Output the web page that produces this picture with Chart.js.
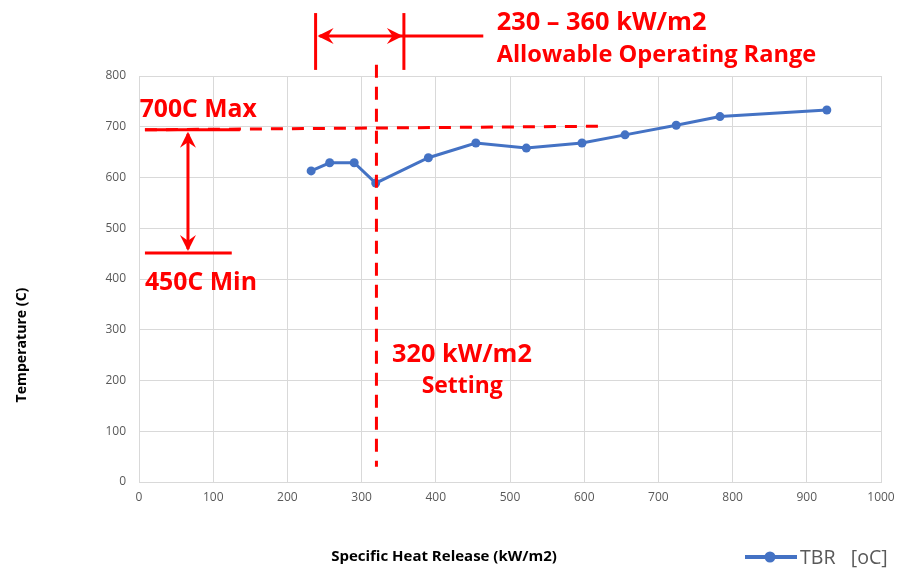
<!DOCTYPE html>
<html>
<head>
<meta charset="utf-8">
<script src="https://cdn.jsdelivr.net/npm/chart.js@4.4.0/dist/chart.umd.min.js"></script>
<style>
  html, body { margin: 0; padding: 0; background: #fff; }
  #wrap { width: 899px; height: 574px; position: relative; }
</style>
</head>
<body>
<div id="wrap"><canvas id="tbr-chart"></canvas></div>
<script>
// Données (kW/m2 -> °C)
const heatRelease = [232, 257, 290, 319, 390, 454, 522, 597, 655, 724, 783, 927]
const tbrTemp = [613, 629, 629, 589, 639, 668, 658, 668, 684, 703, 720, 733]
const seriesLabel = "TBR   [oC]"

// axes
const xMin = 0, xMax = 1000, xStep = 100
const yMin = 0, yMax = 800, yStep = 100
const xTitle = "Specific Heat Release (kW/m2)"
const yTitle = "Temperature (C)"

// repères rouges (en unités du graphe)
const rangeX = [238, 357]          // plage autorisée
const rangeY = [812, 924]
const rangeArrowY = 879
const rangeArrowEnd = 464
const settingX = 320
const settingY = [30, 822]
const maxDashX = [8, 621]
const maxDashY = [694, 701]
const maxLineX = [8, 136]
const minLineX = [8, 125]
const maxTemp = 694
const minTemp = 451
const tempArrowX = 66

const rangeText = ["230 – 360 kW/m2", "Allowable Operating Range"]
const maxText = "700C Max"
const minText = "450C Min"
const settingText = ["320 kW/m2", "Setting"]

const red = "#FF0000"
const blue = "#4472C4"
const fontFamily = '"Open Sans", "DejaVu Sans", sans-serif'

// taille de police pour une largeur donnée
function fitFont(ctx, text, width, weight) {
    ctx.font = `${weight} 100px ${fontFamily}`
    let size = 100 * width / ctx.measureText(text).width
    return `${weight} ${size.toFixed(1)}px ${fontFamily}`
}

function arrowHead(ctx, x, y, angle) {
    const L = 16, W = 8
    ctx.save()
    ctx.translate(x, y)
    ctx.rotate(angle)
    ctx.beginPath()
    ctx.moveTo(0, 0)
    ctx.lineTo(-L, -W)
    ctx.lineTo(-L * 0.65, 0)
    ctx.lineTo(-L, W)
    ctx.closePath()
    ctx.fill()
    ctx.restore()
}

const notesPlugin = {
    id: 'redNotes',
    afterDatasetsDraw(chart) {
        const ctx = chart.ctx
        const x = chart.scales.x, y = chart.scales.y
        const px = v => x.getPixelForValue(v)
        const py = v => y.getPixelForValue(v)

        function line(x1, y1, x2, y2) {
            ctx.beginPath()
            ctx.moveTo(x1, y1)
            ctx.lineTo(x2, y2)
            ctx.stroke()
        }

        ctx.save()
        ctx.strokeStyle = red
        ctx.fillStyle = red
        ctx.lineWidth = 3

        // lignes pointillées
        ctx.setLineDash([12, 9])
        line(px(maxDashX[0]), py(maxDashY[0]), px(maxDashX[1]), py(maxDashY[1]))
        ctx.setLineDash([13, 9])
        line(px(settingX), py(settingY[1]), px(settingX), py(settingY[0]))
        ctx.setLineDash([])

        // plage 230-360
        line(px(rangeX[0]), py(rangeY[0]), px(rangeX[0]), py(rangeY[1]))
        line(px(rangeX[1]), py(rangeY[0]), px(rangeX[1]), py(rangeY[1]))
        line(px(rangeX[0]) + 4, py(rangeArrowY), px(rangeArrowEnd), py(rangeArrowY))
        arrowHead(ctx, px(rangeX[0]) + 2, py(rangeArrowY), Math.PI)
        arrowHead(ctx, px(rangeX[1]) - 1, py(rangeArrowY), 0)

        // max / min
        line(px(maxLineX[0]), py(maxTemp), px(maxLineX[1]), py(maxTemp))
        line(px(minLineX[0]), py(minTemp), px(minLineX[1]), py(minTemp))
        line(px(tempArrowX), py(maxTemp) + 4, px(tempArrowX), py(minTemp) - 4)
        arrowHead(ctx, px(tempArrowX), py(maxTemp) + 2, -Math.PI / 2)
        arrowHead(ctx, px(tempArrowX), py(minTemp) - 2, Math.PI / 2)

        // textes
        ctx.textAlign = 'left'
        ctx.textBaseline = 'alphabetic'
        ctx.font = fitFont(ctx, rangeText[0], 210, 'bold')
        ctx.fillText(rangeText[0], px(482), py(890))
        ctx.font = fitFont(ctx, rangeText[1], 320, 'bold')
        ctx.fillText(rangeText[1], px(482), py(827))
        ctx.font = fitFont(ctx, maxText, 117, 'bold')
        ctx.fillText(maxText, px(1), py(719))
        ctx.font = fitFont(ctx, minText, 112, 'bold')
        ctx.fillText(minText, px(8), py(378))
        ctx.font = fitFont(ctx, settingText[0], 140, 'bold')
        ctx.fillText(settingText[0], px(341), py(237))
        ctx.font = fitFont(ctx, settingText[1], 81, 'bold')
        ctx.fillText(settingText[1], px(381), py(175))
        ctx.restore()
    },
    afterDraw(chart) {
        const ctx = chart.ctx
        const ds = chart.data.datasets[0]
        ctx.save()
        // titres des axes
        ctx.fillStyle = '#000'
        ctx.textAlign = 'center'
        ctx.textBaseline = 'alphabetic'
        ctx.font = fitFont(ctx, xTitle, 225, 'bold')
        ctx.fillText(xTitle, 444, 561)
        ctx.translate(26, 345)
        ctx.rotate(-Math.PI / 2)
        ctx.font = fitFont(ctx, yTitle, 115, 'bold')
        ctx.fillText(yTitle, 0, 0)
        ctx.restore()

        // légende
        ctx.save()
        ctx.strokeStyle = ds.borderColor
        ctx.fillStyle = ds.borderColor
        ctx.lineWidth = 4
        ctx.beginPath()
        ctx.moveTo(745, 557)
        ctx.lineTo(797, 557)
        ctx.stroke()
        ctx.beginPath()
        ctx.arc(770, 557, 5.5, 0, Math.PI * 2)
        ctx.fill()
        ctx.fillStyle = '#595959'
        ctx.textAlign = 'left'
        ctx.textBaseline = 'alphabetic'
        ctx.font = fitFont(ctx, seriesLabel, 88, 'normal')
        ctx.fillText(seriesLabel, 800, 564)
        ctx.restore()
    }
}

const points = heatRelease.map((v, i) => ({ x: v, y: tbrTemp[i] }))

const myChart = new Chart(document.getElementById('tbr-chart'), {
    type: 'line',
    data: {
        datasets: [{
            label: seriesLabel,
            data: points,
            borderColor: blue,
            backgroundColor: blue,
            borderWidth: 3,
            pointRadius: 4.5,
            pointBackgroundColor: blue,
            pointBorderWidth: 0,
            tension: 0
        }]
    },
    options: {
        responsive: true,
        maintainAspectRatio: false,
        animation: false,
        layout: { padding: { left: 0, right: 18, top: 76, bottom: 0 } },
        plugins: {
            legend: { display: false },
            tooltip: { enabled: false }
        },
        scales: {
            x: {
                type: 'linear',
                min: xMin, max: xMax,
                afterFit: (scale) => {
                    scale.height = 92
                    scale.paddingLeft = 0
                    scale.paddingRight = 0
                },
                ticks: {
                    stepSize: xStep, color: '#595959', padding: 8,
                    font: { family: fontFamily, size: 12 },
                    callback: (value) => String(value)
                },
                grid: { color: '#d9d9d9', drawTicks: false },
                border: { color: '#d9d9d9' }
            },
            y: {
                min: yMin, max: yMax,
                afterFit: (scale) => { scale.width = 139 },
                ticks: {
                    stepSize: yStep, color: '#595959', padding: 13,
                    font: { family: fontFamily, size: 12 },
                    callback: (value) => String(value)
                },
                grid: { color: '#d9d9d9', drawTicks: false },
                border: { color: '#d9d9d9' }
            }
        }
    },
    plugins: [notesPlugin]
})
</script>
</body>
</html>
